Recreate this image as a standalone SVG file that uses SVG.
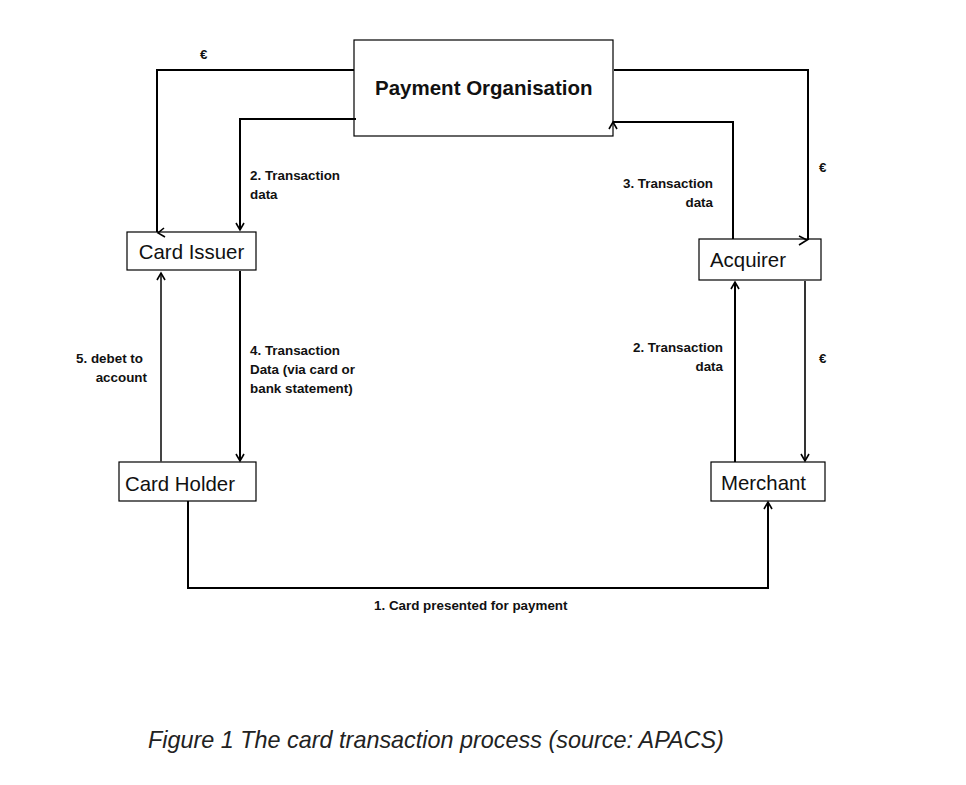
<svg xmlns="http://www.w3.org/2000/svg" width="966" height="785" viewBox="0 0 966 785">
<defs>
<style>
.box{fill:#fff;stroke:#000;stroke-width:1.2}
.node{font-family:"Liberation Sans",Arial,sans-serif;font-size:20.4px;fill:#111}
.title{font-family:"Liberation Sans",Arial,sans-serif;font-size:20.5px;font-weight:bold;fill:#111}
.lbl{font-family:"Liberation Sans",Arial,sans-serif;font-size:13.4px;font-weight:bold;fill:#111}
.edge{fill:none;stroke:#000;stroke-width:2}
.head{fill:none;stroke:#000;stroke-width:1.6}
.cap{font-family:"Liberation Sans",Arial,sans-serif;font-size:23.4px;font-style:italic;fill:#222}
</style>
</defs>
<rect width="966" height="785" fill="#fff"/>
<g id="payment-organisation">
  <rect class="box" x="354" y="40" width="259" height="96"/>
  <text class="title" x="375" y="95">Payment Organisation</text>
</g>
<g id="card-issuer">
  <rect class="box" x="127" y="232" width="129" height="38"/>
  <text class="node" x="191.5" y="259" text-anchor="middle">Card Issuer</text>
</g>
<g id="acquirer">
  <rect class="box" x="699" y="239" width="122" height="41"/>
  <text class="node" x="710" y="267">Acquirer</text>
</g>
<g id="card-holder">
  <rect class="box" x="119" y="462" width="137" height="39"/>
  <text class="node" x="125" y="491">Card Holder</text>
</g>
<g id="merchant">
  <rect class="box" x="711" y="462" width="114" height="39"/>
  <text class="node" x="721" y="490">Merchant</text>
</g>
<g id="connectors">
  <path class="edge" d="M354,70 H157 V232"/>
  <path class="head" d="M164,228 L158,233 L165,237"/>
  <path class="edge" d="M356,119 H240 V230"/>
  <path class="head" d="M236,223 L240,230 L244,223"/>
  <path class="edge" d="M733,239 V122 H613"/>
  <path class="head" d="M609,129 L613,122 L617,129"/>
  <path class="edge" d="M614,70 H808 V240"/>
  <path class="head" d="M799,236 L807,240 L799,245"/>
  <path class="edge" d="M161,462 V273" style="stroke:#444"/>
  <path class="head" d="M157,280 L161,273 L165,280"/>
  <path class="edge" d="M240,271 V461"/>
  <path class="head" d="M236,454 L240,461 L244,454"/>
  <path class="edge" d="M735,462 V282"/>
  <path class="head" d="M731,289 L735,282 L739,289"/>
  <path class="edge" d="M805,281 V461" style="stroke-width:1.6"/>
  <path class="head" d="M801,454 L805,461 L809,454"/>
  <path class="edge" d="M188,501 V588 H768 V502"/>
  <path class="head" d="M764,509 L768,502 L772,509"/>
  <text class="lbl" x="200" y="59">€</text>
  <text class="lbl" x="250" y="180">2. Transaction</text>
  <text class="lbl" x="250" y="199">data</text>
  <text class="lbl" x="713" y="188" text-anchor="end">3. Transaction</text>
  <text class="lbl" x="713" y="207" text-anchor="end">data</text>
  <text class="lbl" x="819" y="172">€</text>
  <text class="lbl" x="250" y="355">4. Transaction</text>
  <text class="lbl" x="250" y="374">Data (via card or</text>
  <text class="lbl" x="250" y="393">bank statement)</text>
  <text class="lbl" x="143" y="363" text-anchor="end">5. debet to</text>
  <text class="lbl" x="147" y="382" text-anchor="end">account</text>
  <text class="lbl" x="723" y="352" text-anchor="end">2. Transaction</text>
  <text class="lbl" x="723" y="371" text-anchor="end">data</text>
  <text class="lbl" x="819" y="363">€</text>
  <text class="lbl" x="374" y="610">1. Card presented for payment</text>
</g>
<text class="cap" x="148" y="748">Figure 1 The card transaction process (source: APACS)</text>
</svg>
